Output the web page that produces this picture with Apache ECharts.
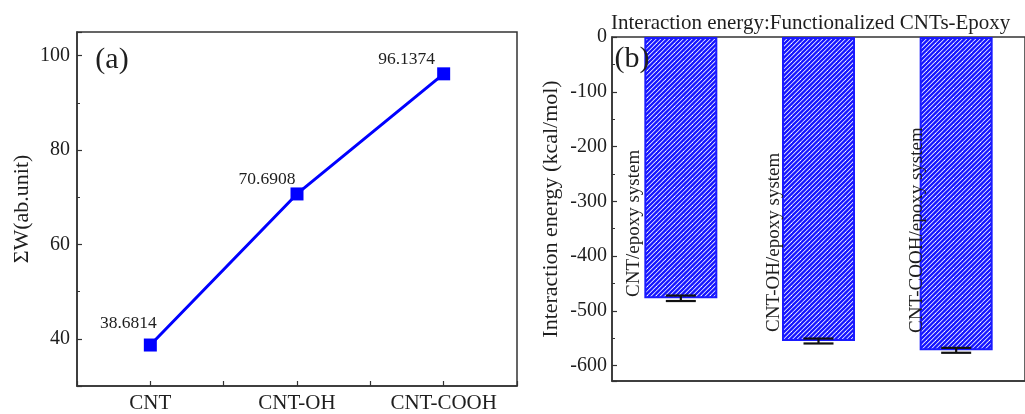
<!DOCTYPE html>
<html><head><meta charset="utf-8">
<script src="https://cdn.jsdelivr.net/npm/echarts@6/dist/echarts.min.js"></script>
<style>html,body{margin:0;padding:0;background:#fff}#c{width:1025px;height:414px}</style>
</head><body><div id="c"></div>
<script>
// ---- data ----
const samplesA = ['CNT', 'CNT-OH', 'CNT-COOH'];
const sumW = [38.6814, 70.6908, 96.1374];
const systemsB = ['CNT/epoxy system', 'CNT-OH/epoxy system', 'CNT-COOH/epoxy system'];
const energy = [-477, -555, -572];
const energyErr = [5, 4.5, 4.5];
const titleB = 'Interaction energy:Functionalized CNTs-Epoxy';
const nameA = 'ΣW(ab.unit)';
const nameB = 'Interaction energy (kcal/mol)';

// ---- style ----
const FONT = '"Liberation Serif", "Times New Roman", serif';
const INK = '#1e1e1e';
const BLUE = '#0000ff';
const labelNudge = [[-22, -22], [-30, -15], [-37, -14]];
const barTextPos = [[634, 297], [774, 332], [917, 333]];

function hatch() {
  const s = 9, c = document.createElement('canvas');
  c.width = s; c.height = s;
  const g = c.getContext('2d');
  g.fillStyle = '#fff'; g.fillRect(0, 0, s, s);
  g.strokeStyle = '#1414ff'; g.lineWidth = 2.3;
  for (let k = -2; k <= 6; k++) {
    const cc = k * 4.5;
    g.beginPath(); g.moveTo(cc + 20, -20); g.lineTo(cc - 20, 20); g.stroke();
  }
  return c;
}

const axisLineStyle = { show: true, onZero: false, lineStyle: { color: '#333', width: 1.5 } };
const tickIn = { show: true, inside: true, length: 5, lineStyle: { color: '#333', width: 1.2 } };
const minorIn = { show: true, splitNumber: 2, length: 3, lineStyle: { color: '#333', width: 1 } };

const chart = echarts.init(document.getElementById('c'), null, { renderer: 'canvas' });
chart.setOption({
  animation: false,
  backgroundColor: '#fff',
  grid: [
    { left: 77, top: 32, width: 440, height: 355, show: true, borderColor: '#333', borderWidth: 1.5, backgroundColor: 'transparent' },
    { left: 612, top: 37, width: 426, height: 344, show: true, borderColor: '#333', borderWidth: 1.5, backgroundColor: 'transparent' }
  ],
  xAxis: [
    {
      type: 'value', gridIndex: 0, min: -0.5, max: 2.5, interval: 0.5,
      axisLine: axisLineStyle, axisTick: tickIn, splitLine: { show: false },
      axisLabel: {
        color: INK, fontFamily: FONT, fontSize: 21, margin: 7,
        formatter: v => (Number.isInteger(v) && v >= 0 && v < samplesA.length) ? samplesA[v] : ''
      }
    },
    {
      type: 'category', gridIndex: 1, data: systemsB, boundaryGap: true,
      axisLine: { show: true, onZero: false, lineStyle: { color: '#333', width: 1.5 } },
      axisTick: { show: false }, axisLabel: { show: false }, splitLine: { show: false }
    }
  ],
  yAxis: [
    {
      type: 'value', gridIndex: 0, min: 30, max: 105, splitNumber: 4,
      axisLine: axisLineStyle, axisTick: tickIn, minorTick: minorIn, splitLine: { show: false },
      axisLabel: { color: INK, fontFamily: FONT, fontSize: 20, margin: 7, showMinLabel: false, showMaxLabel: false },
      name: nameA, nameLocation: 'middle', nameGap: 44,
      nameTextStyle: { color: INK, fontFamily: FONT, fontSize: 22 }
    },
    {
      type: 'value', gridIndex: 1, min: -628, max: 0, splitNumber: 6,
      axisLine: axisLineStyle, axisTick: tickIn, minorTick: minorIn, splitLine: { show: false },
      axisLabel: { color: INK, fontFamily: FONT, fontSize: 20, margin: 5, showMinLabel: false },
      name: nameB, nameLocation: 'middle', nameGap: 50,
      nameTextStyle: { color: INK, fontFamily: FONT, fontSize: 22 }
    }
  ],
  series: [
    {
      type: 'line', xAxisIndex: 0, yAxisIndex: 0,
      data: sumW.map((v, i) => ({ value: [i, v], label: { offset: labelNudge[i] } })),
      symbol: 'rect', symbolSize: 13,
      lineStyle: { color: BLUE, width: 3 },
      itemStyle: { color: BLUE },
      label: {
        show: true, position: 'inside', color: INK, fontFamily: FONT, fontSize: 17.5,
        formatter: p => p.value[1].toFixed(4)
      },
      z: 3
    },
    {
      type: 'bar', xAxisIndex: 1, yAxisIndex: 1, data: energy, barWidth: 73,
      itemStyle: { color: { image: hatch(), repeat: 'repeat' }, borderColor: '#1a1aff', borderWidth: 2 },
      z: 2
    },
    {
      type: 'custom', xAxisIndex: 1, yAxisIndex: 1,
      data: energy.map((v, i) => [i, v - energyErr[i], v + energyErr[i]]),
      encode: { x: 0, y: [1, 2] },
      renderItem: function (params, api) {
        const x = api.value(0);
        const lo = api.coord([x, api.value(1)]);
        const hi = api.coord([x, api.value(2)]);
        const hw = 15;
        const st = { stroke: '#111', lineWidth: 2.2 };
        return {
          type: 'group', children: [
            { type: 'line', shape: { x1: lo[0], y1: lo[1], x2: hi[0], y2: hi[1] }, style: st },
            { type: 'line', shape: { x1: lo[0] - hw, y1: lo[1], x2: lo[0] + hw, y2: lo[1] }, style: st },
            { type: 'line', shape: { x1: hi[0] - hw, y1: hi[1], x2: hi[0] + hw, y2: hi[1] }, style: st }
          ]
        };
      },
      z: 4
    }
  ],
  graphic: [
    { type: 'text', x: 611, y: 23, z: 10, style: { text: titleB, font: '21px ' + FONT, fill: INK, textAlign: 'left', textVerticalAlign: 'middle', align: 'left', verticalAlign: 'middle' } },
    { type: 'text', x: 112, y: 60, z: 10, style: { text: '(a)', font: '30px ' + FONT, fill: INK, textAlign: 'center', textVerticalAlign: 'middle', align: 'center', verticalAlign: 'middle' } },
    { type: 'text', x: 632, y: 59, z: 10, style: { text: '(b)', font: '30px ' + FONT, fill: INK, textAlign: 'center', textVerticalAlign: 'middle', align: 'center', verticalAlign: 'middle' } }
  ].concat(systemsB.map((t, i) => ({
    type: 'text', x: barTextPos[i][0], y: barTextPos[i][1], rotation: Math.PI / 2, z: 10,
    style: { text: t, font: '19px ' + FONT, fill: INK, textAlign: 'left', textVerticalAlign: 'middle', align: 'left', verticalAlign: 'middle' }
  })))
});
</script>
</body></html>
